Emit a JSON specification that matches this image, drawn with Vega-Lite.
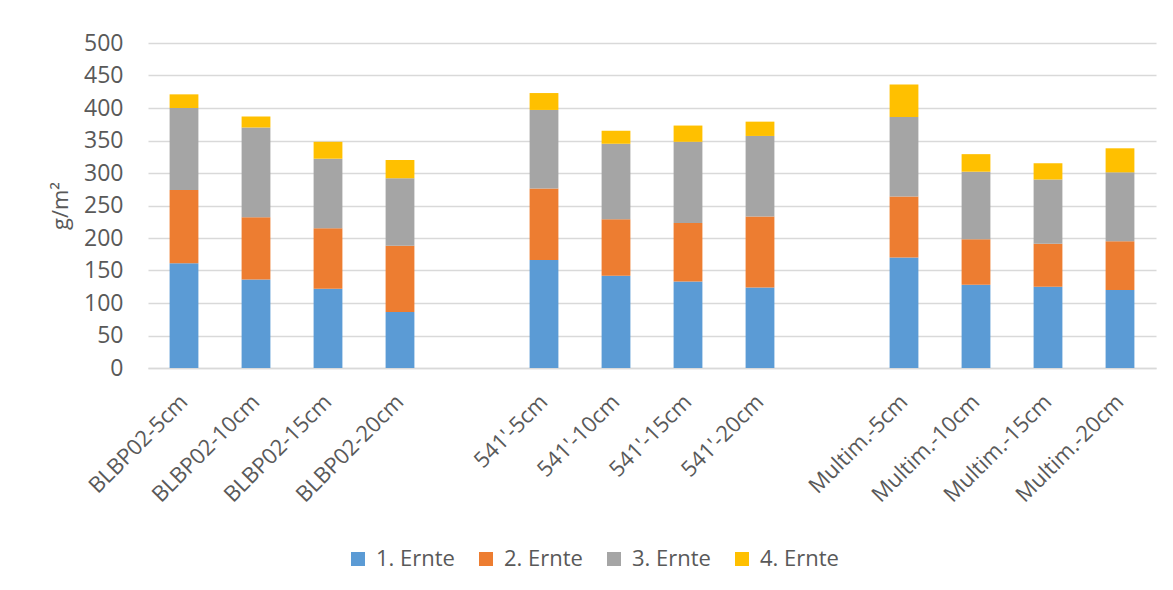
{
  "$schema": "https://vega.github.io/schema/vega-lite/v6.json",
  "autosize": "none",
  "width": 1008,
  "height": 325,
  "padding": {"left": 148, "top": 43, "right": 17, "bottom": 222},
  "background": "white",
  "config": {
    "font": "Open Sans",
    "view": {"stroke": null},
    "axis": {"labelColor": "#595959", "titleColor": "#595959", "labelFont": "Open Sans", "titleFont": "Open Sans"},
    "legend": {"labelFont": "Open Sans"}
  },
  "data": {
    "values": [
      {"Variante": "BLBP02-5cm", "Ernte": "1. Ernte", "Wert": 161},
      {"Variante": "BLBP02-5cm", "Ernte": "2. Ernte", "Wert": 113},
      {"Variante": "BLBP02-5cm", "Ernte": "3. Ernte", "Wert": 126},
      {"Variante": "BLBP02-5cm", "Ernte": "4. Ernte", "Wert": 21},
      {"Variante": "BLBP02-10cm", "Ernte": "1. Ernte", "Wert": 136},
      {"Variante": "BLBP02-10cm", "Ernte": "2. Ernte", "Wert": 96},
      {"Variante": "BLBP02-10cm", "Ernte": "3. Ernte", "Wert": 138},
      {"Variante": "BLBP02-10cm", "Ernte": "4. Ernte", "Wert": 17},
      {"Variante": "BLBP02-15cm", "Ernte": "1. Ernte", "Wert": 122},
      {"Variante": "BLBP02-15cm", "Ernte": "2. Ernte", "Wert": 93},
      {"Variante": "BLBP02-15cm", "Ernte": "3. Ernte", "Wert": 107},
      {"Variante": "BLBP02-15cm", "Ernte": "4. Ernte", "Wert": 26},
      {"Variante": "BLBP02-20cm", "Ernte": "1. Ernte", "Wert": 86},
      {"Variante": "BLBP02-20cm", "Ernte": "2. Ernte", "Wert": 102},
      {"Variante": "BLBP02-20cm", "Ernte": "3. Ernte", "Wert": 104},
      {"Variante": "BLBP02-20cm", "Ernte": "4. Ernte", "Wert": 28},
      {"Variante": "541'-5cm", "Ernte": "1. Ernte", "Wert": 166},
      {"Variante": "541'-5cm", "Ernte": "2. Ernte", "Wert": 110},
      {"Variante": "541'-5cm", "Ernte": "3. Ernte", "Wert": 121},
      {"Variante": "541'-5cm", "Ernte": "4. Ernte", "Wert": 26},
      {"Variante": "541'-10cm", "Ernte": "1. Ernte", "Wert": 142},
      {"Variante": "541'-10cm", "Ernte": "2. Ernte", "Wert": 87},
      {"Variante": "541'-10cm", "Ernte": "3. Ernte", "Wert": 116},
      {"Variante": "541'-10cm", "Ernte": "4. Ernte", "Wert": 20},
      {"Variante": "541'-15cm", "Ernte": "1. Ernte", "Wert": 133},
      {"Variante": "541'-15cm", "Ernte": "2. Ernte", "Wert": 90},
      {"Variante": "541'-15cm", "Ernte": "3. Ernte", "Wert": 125},
      {"Variante": "541'-15cm", "Ernte": "4. Ernte", "Wert": 25},
      {"Variante": "541'-20cm", "Ernte": "1. Ernte", "Wert": 124},
      {"Variante": "541'-20cm", "Ernte": "2. Ernte", "Wert": 109},
      {"Variante": "541'-20cm", "Ernte": "3. Ernte", "Wert": 124},
      {"Variante": "541'-20cm", "Ernte": "4. Ernte", "Wert": 22},
      {"Variante": "Multim.-5cm", "Ernte": "1. Ernte", "Wert": 170},
      {"Variante": "Multim.-5cm", "Ernte": "2. Ernte", "Wert": 94},
      {"Variante": "Multim.-5cm", "Ernte": "3. Ernte", "Wert": 122},
      {"Variante": "Multim.-5cm", "Ernte": "4. Ernte", "Wert": 50},
      {"Variante": "Multim.-10cm", "Ernte": "1. Ernte", "Wert": 128},
      {"Variante": "Multim.-10cm", "Ernte": "2. Ernte", "Wert": 70},
      {"Variante": "Multim.-10cm", "Ernte": "3. Ernte", "Wert": 104},
      {"Variante": "Multim.-10cm", "Ernte": "4. Ernte", "Wert": 27},
      {"Variante": "Multim.-15cm", "Ernte": "1. Ernte", "Wert": 125},
      {"Variante": "Multim.-15cm", "Ernte": "2. Ernte", "Wert": 66},
      {"Variante": "Multim.-15cm", "Ernte": "3. Ernte", "Wert": 99},
      {"Variante": "Multim.-15cm", "Ernte": "4. Ernte", "Wert": 25},
      {"Variante": "Multim.-20cm", "Ernte": "1. Ernte", "Wert": 120},
      {"Variante": "Multim.-20cm", "Ernte": "2. Ernte", "Wert": 75},
      {"Variante": "Multim.-20cm", "Ernte": "3. Ernte", "Wert": 106},
      {"Variante": "Multim.-20cm", "Ernte": "4. Ernte", "Wert": 37}
    ]
  },
  "mark": {"type": "bar"},
  "encoding": {
    "x": {
      "field": "Variante",
      "type": "nominal",
      "scale": {
        "domain": ["BLBP02-5cm", "BLBP02-10cm", "BLBP02-15cm", "BLBP02-20cm", " ",
                   "541'-5cm", "541'-10cm", "541'-15cm", "541'-20cm", "  ",
                   "Multim.-5cm", "Multim.-10cm", "Multim.-15cm", "Multim.-20cm"],
        "paddingInner": 0.6,
        "paddingOuter": 0.3
      },
      "axis": {
        "title": null,
        "labelAngle": -45,
        "labelAlign": "right",
        "labelBaseline": "middle",
        "labelFontSize": 22,
        "labelPadding": 30,
        "ticks": false,
        "domainColor": "#D9D9D9",
        "domainWidth": 1.3,
        "labelOverlap": false
      }
    },
    "y": {
      "field": "Wert",
      "type": "quantitative",
      "stack": "zero",
      "scale": {"domain": [0, 500], "nice": false},
      "axis": {
        "title": "g/m²",
        "titleFontSize": 22,
        "titleFontWeight": "normal",
        "titlePadding": 11,
        "labelFontSize": 23,
        "labelPadding": 25,
        "values": [0, 50, 100, 150, 200, 250, 300, 350, 400, 450, 500],
        "ticks": false,
        "domain": false,
        "gridColor": "#D9D9D9",
        "gridWidth": 1.3
      }
    },
    "color": {
      "field": "Ernte",
      "type": "nominal",
      "scale": {
        "domain": ["1. Ernte", "2. Ernte", "3. Ernte", "4. Ernte"],
        "range": ["#5B9BD5", "#ED7D31", "#A5A5A5", "#FFC000"]
      },
      "legend": {
        "title": null,
        "orient": "none",
        "direction": "horizontal",
        "legendX": 199,
        "legendY": 505,
        "symbolType": "square",
        "symbolSize": 196,
        "symbolStrokeWidth": 0,
        "labelFontSize": 22,
        "labelColor": "#595959",
        "labelOffset": 7,
        "columnPadding": 20
      }
    },
    "order": {"field": "Ernte", "sort": "ascending"}
  }
}
